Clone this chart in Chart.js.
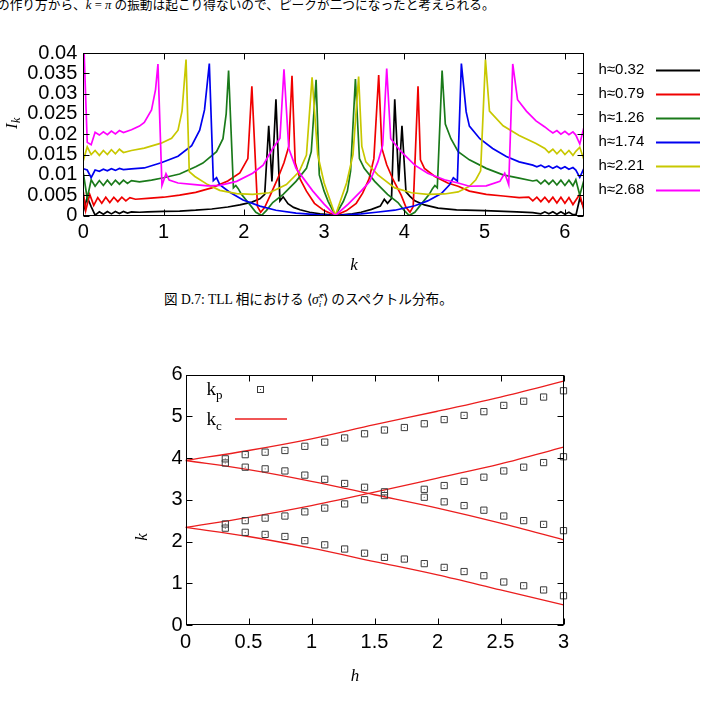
<!DOCTYPE html>
<html>
<head>
<meta charset="utf-8">
<script src="https://cdn.jsdelivr.net/npm/chart.js@4.4.1/dist/chart.umd.min.js"></script>
<style>
    html, body { margin: 0; padding: 0; background: #fff; }
    body { width: 717px; height: 702px; position: relative; overflow: hidden; }
    .text {
        position: absolute;
        white-space: nowrap;
        font-family: "Liberation Serif", "Noto Sans CJK JP", serif;
        color: #000;
        line-height: 1;
    }
    #header { left: -3px; top: -1px; font-size: 12.7px; }
    #caption { left: 164px; top: 291px; font-size: 13.6px; }
    .subsup {
        display: inline-block;
        vertical-align: -0.35em;
        font-size: 0.68em;
        line-height: 0.95;
        font-style: italic;
    }
    .plot { position: absolute; left: 0; }
    #spectrumChart { top: 35px; }
    #peakChart { top: 355px; }
</style>
</head>
<body>
<div class="text" id="header">の作り方から、<i>k</i> = <i>π</i> の振動は起こり得ないので、ピークが二つになったと考えられる。</div>
<canvas class="plot" id="spectrumChart" width="717" height="250"></canvas>
<div class="text" id="caption">図 D.7: TLL 相における ⟨<i>σ̂</i><span class="subsup">x<br>i</span>⟩ のスペクトル分布。</div>
<canvas class="plot" id="peakChart" width="717" height="345"></canvas>

<script>
// spectrum I_k for each field h, pairs [k, I_k]
const hLabels = ["h≈0.32", "h≈0.79", "h≈1.26", "h≈1.74", "h≈2.21", "h≈2.68"];

const spec032 = [
    [0, 0.0010], [0.049, 0.0045], [0.098, 0.0022], [0.147, 0.0001], [0.2, 0.0009],
    [0.25, 0.0003], [0.3, 0.0010], [0.35, 0.0004], [0.4, 0.0010], [0.45, 0.0005],
    [0.5, 0.0010], [0.55, 0.0006], [0.6, 0.0009], [0.7, 0.0008], [0.8, 0.0009],
    [1.0, 0.0010], [1.2, 0.0011], [1.4, 0.0013], [1.6, 0.0016], [1.8, 0.0021],
    [1.95, 0.0026], [2.1, 0.0033], [2.2, 0.0041], [2.26, 0.0052], [2.31, 0.0221],
    [2.35, 0.0084], [2.40, 0.0286], [2.45, 0.0036], [2.49, 0.0046], [2.55, 0.0029],
    [2.62, 0.0020], [2.7, 0.0014], [2.82, 0.0008], [2.95, 0.0004], [3.05, 0.0002],
    [3.14, 0], [3.25, 0.0002], [3.35, 0.0004], [3.46, 0.0008], [3.59, 0.0015],
    [3.70, 0.0023], [3.75, 0.0040], [3.79, 0.0030], [3.84, 0.0042], [3.88, 0.0286],
    [3.93, 0.0084], [3.97, 0.0221], [4.02, 0.0058], [4.07, 0.0047], [4.13, 0.0036],
    [4.25, 0.0026], [4.42, 0.0018], [4.65, 0.0014], [5.0, 0.0012], [5.4, 0.0009],
    [5.6, 0.0007], [5.7, 0.0004], [5.75, 0.0009], [5.8, 0.0004], [5.85, 0.0009],
    [5.9, 0.0003], [5.95, 0.0009], [6.0, 0.0003], [6.05, 0.0008], [6.1, 0.0002],
    [6.14, 0.0003], [6.185, 0.0042], [6.234, 0.0021],
];

const spec079 = [
    [0, 0.0058], [0.03, 0.0012], [0.08, 0.0052], [0.13, 0.0025], [0.18, 0.0044],
    [0.23, 0.0030], [0.28, 0.0045], [0.33, 0.0032], [0.38, 0.0045], [0.43, 0.0034],
    [0.48, 0.0045], [0.53, 0.0036], [0.58, 0.0044], [0.65, 0.0040], [0.8, 0.0042],
    [1.0, 0.0045], [1.2, 0.0050], [1.4, 0.0057], [1.6, 0.0068], [1.8, 0.0085],
    [1.95, 0.0105], [2.05, 0.0140], [2.10, 0.0318], [2.17, 0.0022], [2.21, 0.0008],
    [2.26, 0.0020], [2.33, 0.0050], [2.42, 0.0090], [2.50, 0.0130], [2.56, 0.0170],
    [2.60, 0.0344], [2.64, 0.0130], [2.70, 0.0090], [2.78, 0.0060], [2.88, 0.0030],
    [3.0, 0.0012], [3.14, 0], [3.28, 0.0012], [3.40, 0.0030], [3.48, 0.0055],
    [3.56, 0.0090], [3.62, 0.0140], [3.68, 0.0346], [3.72, 0.0165], [3.78, 0.0125],
    [3.86, 0.0088], [3.96, 0.0050], [4.02, 0.0020], [4.07, 0.0008], [4.11, 0.0022],
    [4.17, 0.0318], [4.20, 0.0137], [4.25, 0.0116], [4.38, 0.0096], [4.54, 0.0080],
    [4.67, 0.0072], [4.81, 0.0060], [5.02, 0.0052], [5.23, 0.0048], [5.43, 0.0044],
    [5.55, 0.0045], [5.6, 0.0036], [5.65, 0.0045], [5.7, 0.0034], [5.75, 0.0045],
    [5.8, 0.0033], [5.85, 0.0045], [5.9, 0.0031], [5.95, 0.0045], [6.0, 0.0030],
    [6.05, 0.0044], [6.1, 0.0027], [6.185, 0.0052], [6.234, 0.0015],
];

const spec126 = [
    [0, 0.0105], [0.049, 0.0042], [0.098, 0.0088], [0.147, 0.0072], [0.2, 0.0086],
    [0.25, 0.0074], [0.3, 0.0087], [0.35, 0.0075], [0.4, 0.0087], [0.45, 0.0077],
    [0.5, 0.0087], [0.55, 0.0079], [0.6, 0.0086], [0.7, 0.0083], [0.85, 0.0087],
    [1.0, 0.0093], [1.2, 0.0102], [1.4, 0.0120], [1.49, 0.0129], [1.66, 0.0157],
    [1.74, 0.0189], [1.78, 0.0250], [1.81, 0.0357], [1.87, 0.0068], [1.90, 0.0074],
    [1.93, 0.0066], [1.97, 0.0052], [2.07, 0.0028], [2.15, 0.0008], [2.22, 0],
    [2.28, 0.0012], [2.36, 0.0032], [2.49, 0.0052], [2.65, 0.0084], [2.78, 0.0116],
    [2.84, 0.0157], [2.90, 0.0334], [2.94, 0.0100], [3.0, 0.0060], [3.05, 0.0035],
    [3.14, 0], [3.24, 0.0035], [3.29, 0.0060], [3.33, 0.0110], [3.39, 0.0336],
    [3.44, 0.0140], [3.50, 0.0116], [3.63, 0.0084], [3.79, 0.0052], [3.92, 0.0032],
    [4.00, 0.0012], [4.06, 0], [4.13, 0.0008], [4.21, 0.0028], [4.31, 0.0052],
    [4.35, 0.0066], [4.38, 0.0074], [4.41, 0.0068], [4.47, 0.0357], [4.51, 0.0225],
    [4.58, 0.0189], [4.67, 0.0157], [4.81, 0.0137], [5.02, 0.0116], [5.23, 0.0100],
    [5.43, 0.0092], [5.60, 0.0085], [5.65, 0.0087], [5.7, 0.0078], [5.75, 0.0087],
    [5.8, 0.0077], [5.85, 0.0087], [5.9, 0.0075], [5.95, 0.0087], [6.0, 0.0074],
    [6.05, 0.0087], [6.1, 0.0073], [6.136, 0.0088], [6.185, 0.0050], [6.234, 0.0085],
];

const spec174 = [
    [0, 0.0115], [0.049, 0.0112], [0.098, 0.0093], [0.147, 0.0112], [0.2, 0.0109],
    [0.25, 0.0114], [0.3, 0.0110], [0.35, 0.0115], [0.4, 0.0111], [0.45, 0.0116],
    [0.5, 0.0113], [0.6, 0.0115], [0.76, 0.0117], [0.97, 0.0130], [1.18, 0.0146],
    [1.35, 0.0172], [1.45, 0.0210], [1.51, 0.0260], [1.57, 0.0374], [1.62, 0.0086],
    [1.66, 0.0093], [1.70, 0.0076], [1.82, 0.0058], [1.99, 0.0038], [2.2, 0.0023],
    [2.4, 0.0013], [2.65, 0.0006], [2.9, 0.0002], [3.14, 0], [3.46, 0.0004],
    [3.65, 0.0008], [3.88, 0.0013], [4.13, 0.0024], [4.29, 0.0036], [4.46, 0.0054],
    [4.56, 0.0075], [4.61, 0.0093], [4.66, 0.0085], [4.71, 0.0374], [4.77, 0.0255],
    [4.81, 0.0220], [4.94, 0.0189], [5.10, 0.0165], [5.27, 0.0145], [5.43, 0.0132],
    [5.6, 0.0124], [5.65, 0.0120], [5.7, 0.0124], [5.75, 0.0118], [5.8, 0.0122],
    [5.85, 0.0116], [5.9, 0.0121], [5.95, 0.0115], [6.0, 0.0120], [6.05, 0.0114],
    [6.1, 0.0118], [6.136, 0.0112], [6.185, 0.0094], [6.234, 0.0115],
];

const spec221 = [
    [0, 0.0135], [0.049, 0.0169], [0.098, 0.0150], [0.147, 0.0160], [0.2, 0.0148],
    [0.25, 0.0160], [0.3, 0.0150], [0.35, 0.0162], [0.4, 0.0152], [0.45, 0.0163],
    [0.5, 0.0155], [0.6, 0.0160], [0.76, 0.0166], [0.97, 0.0178], [1.10, 0.0190],
    [1.18, 0.0210], [1.23, 0.0257], [1.28, 0.0384], [1.32, 0.0108], [1.39, 0.0096],
    [1.55, 0.0076], [1.70, 0.0062], [1.91, 0.0054], [2.11, 0.0052], [2.32, 0.0056],
    [2.53, 0.0076], [2.69, 0.0108], [2.78, 0.0149], [2.85, 0.0340], [2.92, 0.0150],
    [3.0, 0.0080], [3.14, 0], [3.28, 0.0080], [3.36, 0.0150], [3.43, 0.0342],
    [3.47, 0.0170], [3.52, 0.0132], [3.67, 0.0100], [3.88, 0.0068], [4.09, 0.0056],
    [4.29, 0.0052], [4.5, 0.0053], [4.67, 0.0058], [4.81, 0.0072], [4.89, 0.0088],
    [4.95, 0.0110], [5.01, 0.0384], [5.06, 0.0257], [5.23, 0.0221], [5.43, 0.0197],
    [5.64, 0.0177], [5.75, 0.0165], [5.8, 0.0155], [5.85, 0.0163], [5.9, 0.0152],
    [5.95, 0.0162], [6.0, 0.0150], [6.05, 0.0160], [6.1, 0.0148], [6.136, 0.0158],
    [6.185, 0.0168], [6.234, 0.0139],
];

const spec268 = [
    [0, 0.0460], [0.049, 0.0180], [0.098, 0.0174], [0.147, 0.0205], [0.2, 0.0198],
    [0.25, 0.0206], [0.3, 0.0199], [0.35, 0.0208], [0.4, 0.0201], [0.45, 0.0209],
    [0.5, 0.0204], [0.6, 0.0211], [0.7, 0.0220], [0.76, 0.0229], [0.85, 0.0260],
    [0.90, 0.0310], [0.93, 0.0373], [0.98, 0.0074], [1.03, 0.0103], [1.07, 0.0087],
    [1.18, 0.0080], [1.39, 0.0076], [1.55, 0.0073], [1.70, 0.0074], [1.91, 0.0084],
    [2.11, 0.0104], [2.24, 0.0124], [2.36, 0.0165], [2.45, 0.0190], [2.50, 0.0360],
    [2.56, 0.0165], [2.65, 0.0116], [2.74, 0.0092], [2.86, 0.0060], [3.0, 0.0028],
    [3.14, 0], [3.30, 0.0028], [3.46, 0.0060], [3.57, 0.0084], [3.67, 0.0132],
    [3.73, 0.0173], [3.78, 0.0362], [3.83, 0.0189], [3.96, 0.0157], [4.13, 0.0124],
    [4.29, 0.0104], [4.5, 0.0088], [4.67, 0.0080], [4.81, 0.0072], [5.02, 0.0073],
    [5.19, 0.0084], [5.25, 0.0104], [5.30, 0.0076], [5.35, 0.0373], [5.41, 0.0285],
    [5.52, 0.0257], [5.64, 0.0233], [5.75, 0.0218], [5.8, 0.0210], [5.85, 0.0203],
    [5.9, 0.0209], [5.95, 0.0200], [6.0, 0.0207], [6.05, 0.0199], [6.1, 0.0206],
    [6.136, 0.0198], [6.185, 0.0176], [6.234, 0.0215],
];

const kTicks = [0, 1, 2, 3, 4, 5, 6];
const kTickLabels = ["0", "1", "2", "3", "4", "5", "6"];
const iTicks = [0, 0.005, 0.01, 0.015, 0.02, 0.025, 0.03, 0.035, 0.04];
const iTickLabels = ["0", "0.005", "0.01", "0.015", "0.02", "0.025", "0.03", "0.035", "0.04"];

// peak positions k_p vs h (null = no point)
const hPeak = [0.316, 0.474, 0.632, 0.789, 0.947, 1.105, 1.263, 1.421, 1.579,
    1.737, 1.895, 2.053, 2.211, 2.368, 2.526, 2.684, 2.842, 3.0];
const kpOuterHigh = [3.98, 4.08, 4.14, 4.18, 4.28, 4.38, 4.48, 4.58, 4.67,
    4.73, 4.82, 4.92, 5.02, 5.11, 5.26, 5.36, 5.46, 5.61];
const kpInnerHigh = [3.88, 3.78, 3.74, 3.69, 3.59, 3.49, 3.39, 3.30, 3.19,
    null, 3.25, 3.34, 3.44, 3.54, 3.69, 3.78, 3.89, 4.03];
const kpInnerLow = [2.42, 2.50, 2.56, 2.61, 2.71, 2.80, 2.90, 3.00, 3.10,
    null, 3.06, 2.95, 2.86, 2.75, 2.61, 2.50, 2.41, 2.26];
const kpOuterLow = [2.32, 2.22, 2.17, 2.12, 2.02, 1.92, 1.82, 1.72, 1.62,
    1.58, 1.47, 1.38, 1.28, 1.18, 1.03, 0.94, 0.84, 0.70];

// k_c curves
const hCurve = [0, 0.5, 1, 1.5, 2, 2.5, 3];
const kcUpper = [3.94, 4.18, 4.46, 4.80, 5.12, 5.46, 5.84];
const kcRising = [2.34, 2.58, 2.86, 3.18, 3.52, 3.86, 4.26];
const kcFalling = [3.94, 3.72, 3.44, 3.12, 2.80, 2.44, 2.04];
const kcLower = [2.34, 2.12, 1.84, 1.52, 1.20, 0.84, 0.48];

const hTicks = [0, 0.5, 1, 1.5, 2, 2.5, 3];
const hTickLabels = ["0", "0.5", "1", "1.5", "2", "2.5", "3"];
const kTicksB = [0, 1, 2, 3, 4, 5, 6];
const kTickLabelsB = ["0", "1", "2", "3", "4", "5", "6"];

const seriesColors = ["#000000", "#f00000", "#1a7a1a", "#0000f0", "#c8c800", "#ff00ff"];
const kcColor = "rgb(235, 30, 30)";
const tickFont = { family: "'Liberation Sans', Arial, sans-serif", size: 20 };

// box + inward ticks on all four sides, like gnuplot
const framePlugin = {
    id: "frame",
    afterDatasetsDraw(chart) {
        const { ctx, chartArea: a, scales } = chart;
        const L = Math.round(a.left) + 0.5;
        const R = Math.round(a.right) - 0.5;
        const T = Math.round(a.top) + 0.5;
        const B = Math.round(a.bottom) - 0.5;
        ctx.save();
        ctx.strokeStyle = "#000";
        ctx.lineWidth = 1;
        ctx.beginPath();
        scales.x.ticks.forEach((t) => {
            const px = Math.round(scales.x.getPixelForValue(t.value)) + 0.5;
            ctx.moveTo(px, B); ctx.lineTo(px, B - 6);
            ctx.moveTo(px, T); ctx.lineTo(px, T + 6);
        });
        scales.y.ticks.forEach((t) => {
            const py = Math.round(scales.y.getPixelForValue(t.value)) + 0.5;
            ctx.moveTo(L, py); ctx.lineTo(L + 6, py);
            ctx.moveTo(R, py); ctx.lineTo(R - 6, py);
        });
        ctx.stroke();
        ctx.strokeRect(L, T, R - L, B - T);
        ctx.restore();
    },
};

function italic(ctx, text, x, y, size) {
    ctx.font = "italic " + size + "px 'Liberation Serif', serif";
    ctx.fillText(text, x, y);
}

function fixedAxis(ticks, labels, min, max, pad, size) {
    return {
        type: "linear",
        min: min,
        max: max,
        grid: { display: false, drawTicks: false },
        border: { display: false },
        afterBuildTicks: (scale) => {
            scale.ticks = ticks.map((v) => ({ value: v }));
        },
        afterFit: (scale) => {
            if (scale.isHorizontal()) scale.height = size;
            else scale.width = size;
        },
        ticks: {
            autoSkip: false,
            maxRotation: 0,
            padding: pad,
            color: "#000",
            font: tickFont,
            callback: (value, index) => labels[index],
        },
    };
}

document.addEventListener("DOMContentLoaded", function () {
    Chart.defaults.animation = false;

    // ---- upper chart: spectra ----
    const spectra = [spec032, spec079, spec126, spec174, spec221, spec268];

    const spectrumLegend = {
        id: "spectrumLegend",
        afterDraw(chart) {
            const ctx = chart.ctx;
            ctx.save();
            ctx.font = "15px 'Liberation Sans', Arial, sans-serif";
            ctx.textBaseline = "middle";
            ctx.textAlign = "left";
            chart.data.datasets.forEach((ds, i) => {
                const y = 35 + i * 24;
                ctx.fillStyle = "#000";
                ctx.fillText(ds.label, 598.5, y);
                ctx.strokeStyle = ds.borderColor;
                ctx.lineWidth = 1.8;
                ctx.beginPath();
                ctx.moveTo(656, y + 0.5);
                ctx.lineTo(700, y + 0.5);
                ctx.stroke();
            });
            // axis titles
            ctx.fillStyle = "#000";
            ctx.textAlign = "center";
            ctx.textBaseline = "alphabetic";
            italic(ctx, "k", 354, 235, 17);
            ctx.translate(12, 88);
            ctx.rotate(-Math.PI / 2);
            ctx.textAlign = "left";
            italic(ctx, "I", -6, 5, 17);
            italic(ctx, "k", 0, 8, 12);
            ctx.restore();
        },
    };

    new Chart(document.getElementById("spectrumChart"), {
        type: "scatter",
        data: {
            datasets: spectra.map((series, i) => ({
                label: hLabels[i],
                data: series.map(([k, v]) => ({ x: k, y: v })),
                showLine: true,
                borderColor: seriesColors[i],
                backgroundColor: seriesColors[i],
                borderWidth: 1.7,
                pointRadius: 0,
                order: spectra.length - i,
            })),
        },
        options: {
            responsive: false,
            devicePixelRatio: 1,
            layout: { padding: { top: 15, right: 133.3, left: 0, bottom: 0 } },
            plugins: { legend: { display: false }, tooltip: { enabled: false } },
            scales: {
                x: fixedAxis(kTicks, kTickLabels, 0, 6.234, 5, 69.5),
                y: fixedAxis(iTicks, iTickLabels, 0, 0.04, 6, 83.3),
            },
        },
        plugins: [framePlugin, spectrumLegend],
    });

    // ---- lower chart: k_p and k_c vs h ----
    const peakPoints = [];
    [kpOuterHigh, kpInnerHigh, kpInnerLow, kpOuterLow].forEach((branch) => {
        branch.forEach((k, i) => {
            if (k !== null) peakPoints.push({ x: hPeak[i], y: k });
        });
    });

    const curveSets = [kcUpper, kcRising, kcFalling, kcLower].map((branch) => ({
        label: "kc",
        data: branch.map((k, i) => ({ x: hCurve[i], y: k })),
        showLine: true,
        borderColor: kcColor,
        borderWidth: 1.3,
        pointRadius: 0,
        cubicInterpolationMode: "monotone",
    }));

    const peakLegend = {
        id: "peakLegend",
        afterDraw(chart) {
            const ctx = chart.ctx;
            ctx.save();
            ctx.fillStyle = "#000";
            ctx.textAlign = "left";
            ctx.textBaseline = "alphabetic";
            ctx.font = "19px 'Liberation Serif', serif";
            ctx.fillText("k", 206.5, 40);
            ctx.fillText("k", 206.5, 70);
            ctx.font = "13px 'Liberation Serif', serif";
            ctx.fillText("p", 216, 44);
            ctx.fillText("c", 216, 75);
            ctx.strokeStyle = "#3a3a3a";
            ctx.lineWidth = 1;
            ctx.strokeRect(257.5, 31.5, 6, 6);
            ctx.fillStyle = "#555";
            ctx.fillRect(260, 34, 1, 1);
            ctx.beginPath();
            ctx.strokeStyle = kcColor;
            ctx.lineWidth = 1.5;
            ctx.moveTo(235, 64);
            ctx.lineTo(287, 64);
            ctx.stroke();
            // axis titles
            ctx.fillStyle = "#000";
            ctx.textAlign = "center";
            italic(ctx, "h", 355, 326, 17);
            ctx.translate(143, 182);
            ctx.rotate(-Math.PI / 2);
            italic(ctx, "k", 0, 4, 17);
            ctx.restore();
        },
    };

    new Chart(document.getElementById("peakChart"), {
        type: "scatter",
        data: {
            datasets: [
                {
                    label: "kp",
                    data: peakPoints,
                    pointStyle: "rect",
                    pointRadius: 4.4,
                    borderColor: "#3a3a3a",
                    borderWidth: 1,
                    backgroundColor: "rgba(0,0,0,0)",
                    clip: false,
                },
                {
                    label: "kp centre",
                    data: peakPoints,
                    pointStyle: "circle",
                    pointRadius: 0.6,
                    borderWidth: 0,
                    backgroundColor: "#666",
                    clip: false,
                },
                ...curveSets,
            ],
        },
        options: {
            responsive: false,
            devicePixelRatio: 1,
            layout: { padding: { top: 19.5, right: 153.5, left: 0, bottom: 0 } },
            plugins: { legend: { display: false }, tooltip: { enabled: false } },
            scales: {
                x: fixedAxis(hTicks, hTickLabels, 0, 3, 5, 75),
                y: fixedAxis(kTicksB, kTickLabelsB, 0, 6, 3, 185.5),
            },
        },
        plugins: [framePlugin, peakLegend],
    });
});
</script>
</body>
</html>
